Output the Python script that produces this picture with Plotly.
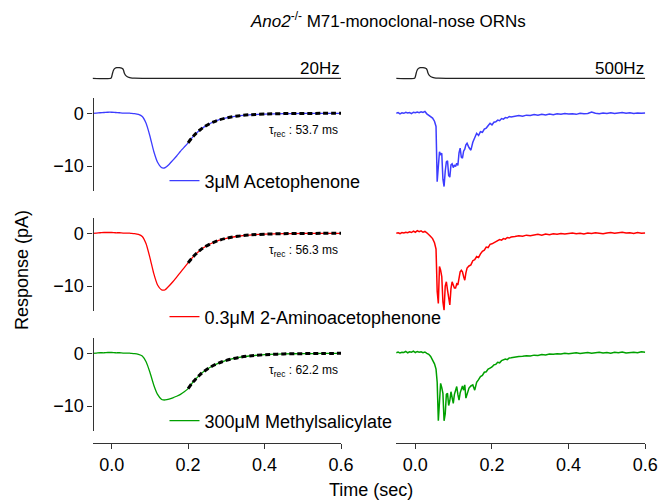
import plotly.graph_objects as go

# ---------------- data ----------------
t_slow = [-0.05, -0.04, -0.03, -0.02, -0.01, 0.0, 0.01, 0.02, 0.03, 0.04, 0.05, 0.06, 0.07,
          0.08, 0.09, 0.10, 0.11, 0.12, 0.13, 0.135, 0.14, 0.15, 0.16, 0.17, 0.18, 0.19,
          0.20, 0.21, 0.22, 0.23, 0.24, 0.26, 0.28, 0.30, 0.33, 0.36, 0.40, 0.45, 0.50,
          0.55, 0.60]
aceto_20 = [0.0, 0.05, 0.1, 0.15, 0.2, 0.2, 0.15, 0.1, 0.05, 0.05, 0.0, -0.05, -0.2,
            -0.6, -1.9, -4.3, -7.2, -9.3, -10.3, -10.4, -10.3, -9.7, -8.9, -8.1, -7.2, -6.4,
            -5.6, -4.65, -3.87, -3.22, -2.67, -1.84, -1.27, -0.88, -0.50, -0.28, -0.14, -0.06,
            -0.03, -0.01, 0.0]
amino_20 = [0.0, 0.05, 0.1, 0.15, 0.15, 0.15, 0.1, 0.1, 0.05, 0.05, 0.0, -0.05, -0.2,
            -0.6, -2.0, -4.6, -7.6, -9.8, -10.7, -10.8, -10.7, -10.0, -9.2, -8.3, -7.4, -6.5,
            -5.6, -4.7, -3.93, -3.29, -2.75, -1.93, -1.35, -0.95, -0.56, -0.33, -0.16, -0.07,
            -0.03, -0.01, 0.0]
methyl_20 = [0.0, 0.05, 0.1, 0.1, 0.15, 0.15, 0.1, 0.1, 0.05, 0.05, 0.0, -0.05, -0.2,
             -0.5, -1.6, -3.6, -6.0, -7.8, -8.7, -8.85, -8.85, -8.7, -8.45, -8.15, -7.8, -7.3,
             -6.7, -5.7, -4.86, -4.14, -3.52, -2.55, -1.85, -1.34, -0.83, -0.51, -0.27, -0.12,
             -0.06, -0.03, -0.01]

t_fit = [0.20, 0.21, 0.22, 0.23, 0.24, 0.26, 0.28, 0.30, 0.33, 0.36, 0.40, 0.45, 0.50, 0.55, 0.60]
aceto_fit = [-5.6, -4.65, -3.87, -3.22, -2.67, -1.84, -1.27, -0.88, -0.50, -0.28, -0.14, -0.06, -0.03, -0.01, 0.0]
amino_fit = [-5.6, -4.7, -3.93, -3.29, -2.75, -1.93, -1.35, -0.95, -0.56, -0.33, -0.16, -0.07, -0.03, -0.01, 0.0]
methyl_fit = [-6.7, -5.7, -4.86, -4.14, -3.52, -2.55, -1.85, -1.34, -0.83, -0.51, -0.27, -0.12, -0.06, -0.03, -0.01]

t_fast = [-0.050, -0.045, -0.040, -0.035, -0.030, -0.025, -0.020, -0.015, -0.010, -0.005,
          0.000, 0.005, 0.010, 0.015, 0.020, 0.025, 0.030, 0.035,
          0.040, 0.045, 0.050, 0.054,
          0.057, 0.060, 0.063, 0.066, 0.069, 0.072, 0.075, 0.078, 0.081, 0.084, 0.087, 0.090,
          0.093, 0.096, 0.099, 0.102, 0.105, 0.108, 0.111, 0.114, 0.117, 0.120, 0.123, 0.126,
          0.129, 0.132, 0.135,
          0.140, 0.145, 0.150, 0.155, 0.160, 0.165, 0.170, 0.175, 0.180, 0.185, 0.190, 0.195,
          0.200, 0.205, 0.210, 0.215, 0.220, 0.225, 0.230, 0.235, 0.240, 0.245, 0.250,
          0.26, 0.27, 0.28, 0.29, 0.30, 0.31, 0.32, 0.33, 0.34, 0.35, 0.36, 0.37, 0.38, 0.39,
          0.40, 0.41, 0.42, 0.43, 0.44, 0.45, 0.46, 0.47, 0.48, 0.49, 0.50, 0.51, 0.52, 0.53,
          0.54, 0.55, 0.56, 0.57, 0.58, 0.59, 0.60]
aceto_500 = [0.0, 0.15, -0.1, 0.1, 0.0, 0.2, 0.05, 0.15, -0.05, 0.2, 0.1, 0.25, 0.1, 0.3, 0.15, 0.35, -0.1, -0.4,
             -0.6, -0.9, -1.5, -2.5,
             -13.0, -9.0, -7.3, -7.8, -7.6, -12.5, -13.9, -11.0, -9.2, -9.0, -11.8, -12.1,
             -9.8, -9.6, -10.3, -9.8, -10.1, -9.5, -9.9, -7.5, -6.6, -8.3, -8.5, -7.2,
             -6.8, -6.0, -5.7,
             -6.5, -7.0, -5.5, -4.8, -3.8, -4.2, -3.5, -3.6, -3.0, -2.8, -2.3, -1.9,
             -2.2, -1.7, -1.6, -1.3, -1.4, -1.0, -1.1, -0.8, -0.9, -0.6, -0.7,
             -0.5, -0.4, -0.55, -0.35, -0.4, -0.25, -0.35, -0.2, -0.3, -0.15, -0.25, -0.1, -0.2, -0.05,
             -0.15, -0.1, -0.2, 0.0, -0.1, -0.05, 0.25, 0.0, -0.1, 0.05, -0.05, 0.1, -0.05, 0.05,
             0.15, 0.0, 0.1, -0.05, 0.05, 0.0, 0.05]
amino_500 = [0.0, 0.1, -0.05, 0.15, 0.05, 0.2, 0.1, 0.3, 0.15, 0.4, 0.2, 0.5, 0.3, 0.45, 0.2, 0.35, 0.1, -0.2,
             -0.6, -1.0, -1.8, -3.0,
             -11.0, -13.3, -6.3, -7.0, -8.2, -13.0, -14.6, -10.0, -9.2, -10.8, -12.5, -13.6,
             -10.5, -9.2, -9.8, -10.4, -10.4, -9.6, -9.8, -8.0, -7.3, -7.0, -7.3, -8.2,
             -8.9, -7.5, -6.6,
             -6.2, -6.0, -5.2, -5.0, -4.4, -4.6, -3.9, -3.4, -3.2, -2.6, -2.7, -2.1,
             -2.0, -1.8, -1.6, -1.5, -1.2, -1.3, -1.0, -1.1, -0.8, -0.9, -0.7,
             -0.6, -0.45, -0.55, -0.35, -0.45, -0.3, -0.2, -0.35, -0.15, -0.25, -0.1, -0.2, -0.05, -0.15,
             -0.1, 0.05, -0.1, 0.0, -0.15, 0.05, -0.05, 0.1, 0.0, -0.1, 0.05, 0.15, 0.0, 0.1,
             0.2, 0.05, 0.1, -0.05, 0.15, 0.0, 0.05]
methyl_500 = [0.1, 0.25, 0.05, 0.2, 0.15, 0.35, 0.1, 0.3, 0.2, 0.4, 0.15, 0.35, 0.2, 0.3, 0.1, 0.25, 0.0, -0.2,
              -0.6, -1.2, -2.0, -3.0,
              -5.5, -12.8, -9.0, -5.7, -6.5, -7.6, -12.8, -11.5, -7.8, -7.6, -9.9, -9.0,
              -7.3, -8.2, -9.5, -7.8, -6.8, -6.3, -7.8, -8.9, -7.5, -6.6, -6.2, -7.0,
              -6.0, -8.5, -7.6,
              -6.6, -6.2, -6.0, -7.0, -5.5, -5.0, -4.4, -4.2, -3.6, -3.5, -3.0, -2.8,
              -2.6, -2.2, -2.1, -1.7, -1.8, -1.4, -1.3, -1.1, -1.2, -0.9, -0.85,
              -0.7, -0.6, -0.55, -0.45, -0.5, -0.35, -0.4, -0.25, -0.3, -0.15, -0.2, -0.1, -0.15, 0.0,
              -0.1, 0.05, 0.1, -0.05, 0.05, 0.15, 0.0, 0.1, 0.2, 0.05, 0.15, 0.0, 0.2, 0.1,
              0.25, 0.05, 0.15, 0.2, 0.1, 0.3, 0.2]

t_stim = [-0.05, -0.002, 0.0, 0.002, 0.004, 0.006, 0.009, 0.013, 0.02, 0.026, 0.029, 0.031,
          0.033, 0.036, 0.04, 0.045, 0.05, 0.06, 0.08, 0.6]
stim = [0.0, 0.0, 0.15, 0.45, 0.7, 0.85, 0.95, 1.0, 1.0, 0.97, 0.9, 0.75,
        0.5, 0.3, 0.17, 0.09, 0.05, 0.02, 0.0, 0.0]

odor_names = ["3\u03bcM Acetophenone", "0.3\u03bcM 2-Aminoacetophenone", "300\u03bcM Methylsalicylate"]
tau_labels = ["53.7", "56.3", "62.2"]
colors = ["#3d3dff", "#ff0000", "#00a000"]
x_ticks = [0.0, 0.2, 0.4, 0.6]
x_ticklabels = ["0.0", "0.2", "0.4", "0.6"]
y_ticks = [0, -10]
y_ticklabels = ["0", "\u221210"]

slow = [aceto_20, amino_20, methyl_20]
fits = [aceto_fit, amino_fit, methyl_fit]
fast = [aceto_500, amino_500, methyl_500]

# ---------------- layout helpers ----------------
W, H = 669, 502          # reference pixel frame
FIG_W = 684              # figure width (compensates the capture's horizontal squeeze)
def py(p):
    return 1 - p / H
def px(p):
    return p / W

FONT = "Liberation Sans, Arial, Helvetica, sans-serif"
AX = "#333333"
zeros = [113.3, 233.3, 353.3]
ytop_off, ybot_off = 15.0, 77.5
pxper = 5.27
yrange = [-ybot_off / pxper, ytop_off / pxper]
xrange = [-0.05, 0.6]
Lx = [92.3, 340.0]
Rx = [395.0, 643.3]
legend_y = [181.0, 317.0, 421.0]

fig = go.Figure()

# stimulus traces
fig.add_trace(go.Scatter(x=t_stim, y=stim, xaxis="x", yaxis="y4", mode="lines",
                         line=dict(color="#222", width=1.3, shape="spline", smoothing=0.6),
                         showlegend=False, hoverinfo="skip"))
fig.add_trace(go.Scatter(x=t_stim, y=stim, xaxis="x2", yaxis="y8", mode="lines",
                         line=dict(color="#222", width=1.3, shape="spline", smoothing=0.6),
                         showlegend=False, hoverinfo="skip"))

legs = ["legend", "legend2", "legend3"]
for i in range(3):
    yl = "y" if i == 0 else f"y{i+1}"
    yr = f"y{i+5}"
    fig.add_trace(go.Scatter(x=t_slow, y=slow[i], xaxis="x", yaxis=yl, mode="lines",
                             line=dict(color=colors[i], width=1.3, shape="spline", smoothing=0.5),
                             name=odor_names[i], legend=legs[i], showlegend=True))
    fig.add_trace(go.Scatter(x=t_fit, y=fits[i], xaxis="x", yaxis=yl, mode="lines",
                             line=dict(color="black", width=3, dash="5px,3px", shape="spline"),
                             showlegend=False))
    fig.add_trace(go.Scatter(x=t_fast, y=fast[i], xaxis="x2", yaxis=yr, mode="lines",
                             line=dict(color=colors[i], width=1.5),
                             showlegend=False))

layout = dict(
    width=FIG_W, height=H, autosize=False, margin=dict(l=0, r=0, t=0, b=0),
    paper_bgcolor="white", plot_bgcolor="white",
    font=dict(family=FONT, size=18, color="black"),
    showlegend=True,
)
xcommon = dict(range=xrange, anchor="free", position=py(443.3), showline=True, linecolor=AX,
               linewidth=1.3, ticks="outside", ticklen=5, tickwidth=1.3, tickcolor=AX,
               tickvals=x_ticks, ticktext=x_ticklabels, showgrid=False, zeroline=False,
               tickfont=dict(size=18, family=FONT, color="black"))
layout["xaxis"] = dict(domain=[px(Lx[0]), px(Lx[1])], **xcommon)
layout["xaxis2"] = dict(domain=[px(Rx[0]), px(Rx[1])], **xcommon)

for i in range(3):
    z = zeros[i]
    dom = [py(z + ybot_off), py(z - ytop_off)]
    key = "yaxis" if i == 0 else f"yaxis{i+1}"
    layout[key] = dict(domain=dom, range=yrange, anchor="free", position=px(Lx[0]),
                       showline=True, linecolor=AX, linewidth=1.3, ticks="outside", ticklen=5,
                       tickwidth=1.3, tickcolor=AX, tickvals=y_ticks, ticktext=y_ticklabels,
                       showgrid=False, zeroline=False,
                       tickfont=dict(size=18, family=FONT, color="black"))
    layout[f"yaxis{i+5}"] = dict(domain=dom, range=yrange, anchor="x2", visible=False,
                                 showgrid=False, zeroline=False)
    layout[legs[i]] = dict(x=px(164), y=py(legend_y[i]), xanchor="left", yanchor="middle",
                           bgcolor="rgba(0,0,0,0)", borderwidth=0,
                           font=dict(size=18, family=FONT, color="black"))

sdom = [py(82), py(60)]
srange = [-3.7 / 10.6, 1 + 7.7 / 10.6]
layout["yaxis4"] = dict(domain=sdom, range=srange, anchor="x", visible=False, showgrid=False, zeroline=False)
layout["yaxis8"] = dict(domain=sdom, range=srange, anchor="x2", visible=False, showgrid=False, zeroline=False)

ann = []
ann.append(dict(text="<i>Ano2</i><sup>-/-</sup> M71-monoclonal-nose ORNs", x=px(387), y=py(20),
                xref="paper", yref="paper", showarrow=False, xanchor="center", yanchor="middle",
                font=dict(size=17, family=FONT, color="black")))
ann.append(dict(text="20Hz", x=px(341), y=py(68), xref="paper", yref="paper", showarrow=False,
                xanchor="right", yanchor="middle", font=dict(size=17, family=FONT, color="black")))
ann.append(dict(text="500Hz", x=px(644), y=py(68), xref="paper", yref="paper", showarrow=False,
                xanchor="right", yanchor="middle", font=dict(size=17, family=FONT, color="black")))
for i in range(3):
    ann.append(dict(text=f"\u03c4<sub>rec</sub> : {tau_labels[i]} ms", x=px(339), y=py(zeros[i] + 18),
                    xref="paper", yref="paper", showarrow=False, xanchor="right", yanchor="middle",
                    font=dict(size=12, family=FONT, color="black")))
ann.append(dict(text="Response (pA)", x=px(22), y=py(270), xref="paper", yref="paper",
                showarrow=False, textangle=-90, xanchor="center", yanchor="middle",
                font=dict(size=18, family=FONT, color="black")))
ann.append(dict(text="Time (sec)", x=px(370), y=py(490), xref="paper", yref="paper",
                showarrow=False, xanchor="center", yanchor="middle",
                font=dict(size=18, family=FONT, color="black")))
layout["annotations"] = ann

fig.update_layout(**layout)
fig.write_html(
    "out.html",
    config={"displayModeBar": False, "responsive": False},
    default_width=f"{FIG_W}px",
    default_height=f"{H}px",
    post_script="document.body.style.margin='0';document.body.style.overflow='hidden';",
)
